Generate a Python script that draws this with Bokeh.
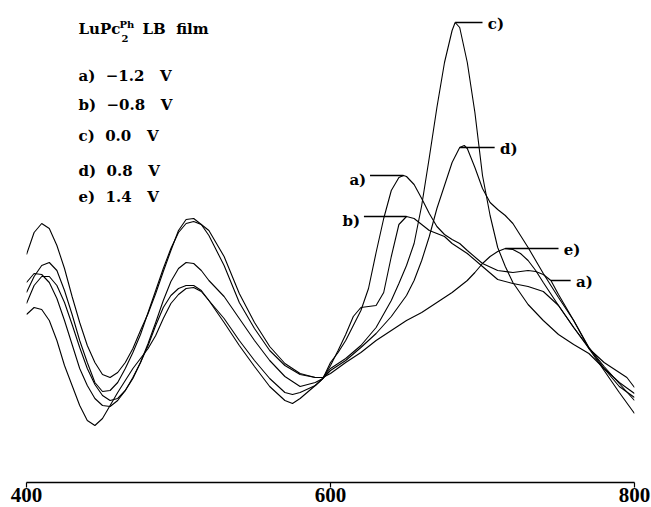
import numpy as np
from bokeh.plotting import figure
from bokeh.models import Range1d, FixedTicker, Label
from bokeh.embed import file_html
from bokeh.resources import INLINE

# ---------------- data (wavelength in nm, absorbance in mAbs, arbitrary offset) ----------------
wl_a = [400, 405, 410, 415, 420, 425, 430, 435, 440, 445, 450, 455, 460, 465, 470, 475, 480, 485, 490, 495,
        500, 505, 510, 515, 520, 530, 540, 550, 560, 570, 575, 580, 590, 595, 600, 605, 610, 615, 620, 625,
        630, 635, 640, 645, 648, 650, 655, 660, 665, 670, 675, 680, 685, 690, 700, 710, 720, 730, 735, 740,
        745, 750, 760, 770, 780, 790, 800]
mabs_a = [198, 207, 206, 198, 182, 160, 136, 112, 95, 82, 75, 74, 80, 90, 102, 118, 135, 155, 173, 185,
          192, 195, 195, 190, 180, 162, 140, 120, 102, 88, 86, 88, 95, 102, 118, 128, 140, 155, 170, 192,
          228, 262, 290, 303, 305, 304, 296, 282, 267, 254, 246, 241, 237, 230, 217, 210, 208, 210, 209, 206,
          200, 186, 160, 132, 110, 88, 67]

wl_b = [400, 405, 410, 415, 420, 425, 430, 435, 440, 445, 450, 455, 460, 465, 470, 475, 480, 485, 490, 495,
        500, 505, 510, 515, 520, 530, 540, 550, 560, 570, 575, 580, 590, 595, 600, 605, 610, 615, 620, 625,
        630, 635, 640, 645, 650, 655, 660, 665, 670, 675, 680, 690, 700, 710, 720, 730, 740, 750, 760, 770,
        780, 790, 795, 800]
mabs_b = [166, 173, 171, 160, 140, 115, 95, 75, 60, 55, 62, 75, 88, 100, 112, 122, 132, 145, 162, 177,
          186, 192, 193, 189, 180, 158, 135, 114, 94, 80, 77, 82, 95, 102, 115, 130, 146, 164, 173, 174,
          175, 188, 224, 256, 264, 262, 256, 250, 247, 244, 237, 227, 214, 201, 197, 194, 189, 175, 153, 132,
          118, 108, 103, 93]

wl_c = [400, 405, 410, 415, 420, 425, 430, 435, 440, 445, 450, 455, 460, 465, 470, 475, 480, 485, 490, 495,
        500, 505, 510, 515, 520, 530, 540, 550, 560, 570, 580, 590, 595, 600, 610, 620, 630, 640, 645, 650,
        655, 660, 665, 670, 675, 680, 682, 685, 690, 695, 700, 705, 710, 715, 720, 730, 740, 750, 760, 770,
        780, 790, 800]
mabs_c = [188, 204, 215, 218, 210, 190, 166, 140, 118, 98, 89, 90, 98, 112, 128, 146, 168, 190, 212, 232,
          248, 257, 259, 256, 250, 224, 187, 158, 134, 117, 107, 103, 103, 112, 122, 135, 153, 180, 197, 215,
          237, 275, 323, 373, 418, 450, 458, 453, 418, 368, 305, 265, 233, 214, 198, 176, 160, 146, 136, 127,
          112, 98, 87]

wl_d = [400, 405, 410, 415, 420, 425, 430, 435, 440, 445, 450, 455, 460, 465, 470, 475, 480, 485, 490, 495,
        500, 505, 510, 515, 520, 530, 540, 550, 560, 570, 580, 590, 595, 600, 610, 620, 630, 640, 650, 655,
        660, 665, 670, 675, 680, 685, 688, 690, 695, 700, 705, 710, 715, 720, 730, 740, 750, 760, 770, 780,
        790, 800]
mabs_d = [177, 195, 204, 204, 195, 178, 156, 133, 112, 96, 85, 80, 82, 90, 103, 118, 137, 158, 180, 199,
          212, 218, 217, 210, 200, 184, 162, 140, 120, 104, 94, 98, 102, 110, 120, 133, 147, 164, 185, 200,
          220, 244, 272, 295, 318, 333, 335, 332, 313, 292, 278, 271, 265, 257, 233, 207, 183, 160, 133, 114,
          97, 80]

wl_e = [400, 405, 410, 415, 420, 425, 430, 435, 440, 445, 450, 455, 460, 465, 470, 475, 480, 485, 490, 495,
        500, 505, 510, 515, 520, 530, 540, 550, 560, 570, 580, 590, 595, 600, 610, 620, 630, 640, 650, 660,
        670, 680, 690, 695, 700, 705, 710, 715, 720, 725, 730, 735, 740, 750, 760, 770, 780, 790, 800]
mabs_e = [226, 248, 257, 252, 235, 212, 184, 158, 135, 118, 106, 103, 108, 118, 132, 150, 167, 187, 209, 230,
          250, 261, 262, 256, 245, 215, 178, 152, 130, 115, 106, 103, 103, 107, 118, 128, 140, 150, 160, 168,
          178, 188, 200, 208, 217, 224, 229, 232, 231, 227, 220, 210, 198, 175, 153, 133, 112, 94, 83]

x_ticks = [400, 600, 800]

NB = "\u00a0"
title_main = "LuPc"
title_sup = "Ph"
title_sub = "2"
title_tail = "LB" + NB * 2 + "film"
legend_rows = ["a)" + NB * 2 + "\u22121.2" + NB * 3 + "V",
               "b)" + NB * 2 + "\u22120.8" + NB * 3 + "V",
               "c)" + NB * 2 + "0.0" + NB * 3 + "V",
               "d)" + NB * 2 + "0.8" + NB * 3 + "V",
               "e)" + NB * 2 + "1.4" + NB * 3 + "V"]

# curve labels: (text, curve key, anchor wavelength on the curve, leader end wavelength, side)
curve_labels = [
    ("c)", "c", 682, 700, "right"),
    ("d)", "d", 685, 708, "right"),
    ("a)", "a", 648, 626, "left"),
    ("b)", "b", 650, 622, "left"),
    ("e)", "e", 715, 750, "right"),
    ("a)", "a", 745, 758, "right"),
]

series = {"a": (wl_a, mabs_a), "b": (wl_b, mabs_b), "c": (wl_c, mabs_c),
          "d": (wl_d, mabs_d), "e": (wl_e, mabs_e)}

# ---------------- figure ----------------
W, H = 651, 507
p = figure(width=W, height=H, output_backend="svg", toolbar_location=None,
           x_range=Range1d(400, 800), y_range=Range1d(-0.002, 0.480),
           y_axis_location=None,
           min_border_left=26, min_border_right=17, min_border_top=0, min_border_bottom=25)
p.outline_line_color = None
p.xgrid.visible = False
p.ygrid.visible = False
p.background_fill_color = "white"
p.border_fill_color = "white"

ax = p.xaxis[0]
ax.ticker = FixedTicker(ticks=x_ticks)
ax.axis_line_width = 1.6
ax.axis_line_color = "black"
ax.major_tick_out = 5
ax.major_tick_in = 0
ax.major_tick_line_width = 1.2
ax.minor_tick_out = 0
ax.minor_tick_in = 0
ax.major_label_standoff = 0
ax.major_label_text_font = "Liberation Serif"
ax.major_label_text_font_style = "bold"
ax.major_label_text_font_size = "21px"
ax.major_label_text_color = "black"

for key, (wl, m) in series.items():
    p.line(wl, np.array(m) / 1000.0, line_color="black", line_width=1.1)

# helpers for text placement (image pixel -> data)
def nm_at(px):
    return 400 + (px - 26) / 1.52

def a_at(py):
    return (480 - py) / 1000.0

FONT = "DejaVu Serif"
FS = "15px"

def add_text(txt, x, y, size=FS, align="left", style="bold"):
    p.add_layout(Label(x=x, y=y, text=txt, text_font=FONT, text_font_size=size,
                       text_font_style=style, text_align=align, text_baseline="middle",
                       text_color="black"))

add_text(title_main, nm_at(78), a_at(28))
add_text(title_sup, nm_at(119), a_at(24), size="10px")
add_text(title_sub, nm_at(121), a_at(38), size="10px")
add_text(title_tail, nm_at(142), a_at(28))
row_y = [75, 104, 135, 170, 196]
for txt, yy in zip(legend_rows, row_y):
    add_text(txt, nm_at(78), a_at(yy))

x0s, x1s, ys = [], [], []
for txt, key, anc, end, side in curve_labels:
    wl, m = series[key]
    yv = dict(zip(wl, m))[anc] / 1000.0
    x0s.append(anc); x1s.append(end); ys.append(yv)
    if side == "right":
        add_text(txt, end + 3.5, yv - 0.001)
    else:
        add_text(txt, end - 2.5, yv - 0.004, align="right")
p.segment(x0=x0s, y0=ys, x1=x1s, y1=ys, line_color="black", line_width=1.5)

open("out.html", "w").write(file_html(p, INLINE))
